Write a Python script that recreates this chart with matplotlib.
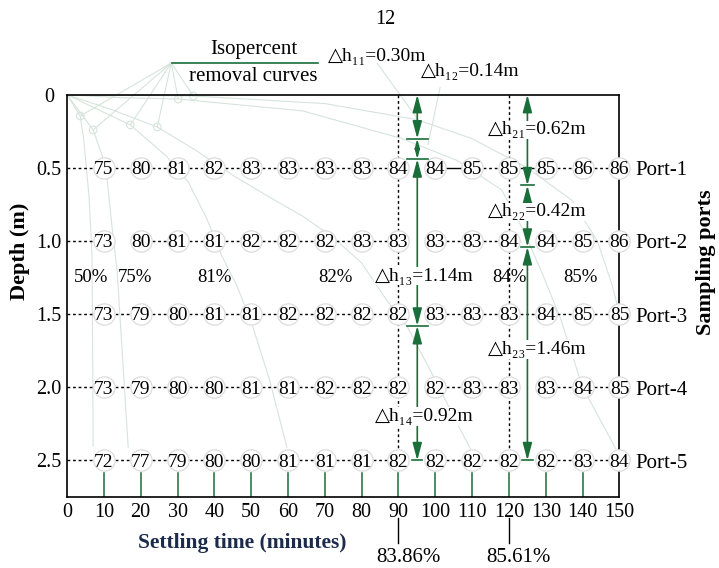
import numpy as np
import matplotlib
matplotlib.use("Agg")
import matplotlib.pyplot as plt

plt.rcParams['font.family'] = ['Liberation Serif', 'DejaVu Sans']

# settling column data: % removal at each port and time
times = [10, 20, 30, 40, 50, 60, 70, 80, 90, 100, 110, 120, 130, 140, 150]
depths = [0.5, 1.0, 1.5, 2.0, 2.5]
ports = ["Port-1", "Port-2", "Port-3", "Port-4", "Port-5"]
port1 = [75, 80, 81, 82, 83, 83, 83, 83, 84, 84, 85, 85, 85, 86, 86]
port2 = [73, 80, 81, 81, 82, 82, 82, 83, 83, 83, 83, 84, 84, 85, 86]
port3 = [73, 79, 80, 81, 81, 82, 82, 82, 82, 83, 83, 83, 84, 85, 85]
port4 = [73, 79, 80, 80, 81, 81, 82, 82, 82, 82, 83, 83, 83, 84, 85]
port5 = [72, 77, 79, 80, 80, 81, 81, 81, 82, 82, 82, 82, 82, 83, 84]
removal = [port1, port2, port3, port4, port5]

# links (row, start time) that are not drawn dashed
gap_links = [(0, 90), (1, 10), (1, 90), (1, 120), (2, 90), (3, 90), (3, 120), (4, 90), (4, 120)]
solid_links = [(0, 100)]

# isopercent removal curves (time, depth)
curve_names = ["50%", "75%", "81%", "82%", "84%", "85%"]
curve_t = [
    [0, 3.6, 4.5, 6.0, 6.8, 7.1],
    [0, 7.1, 9.6, 10.9, 12.5, 13.6, 16.6],
    [0, 17.2, 27, 33, 38, 42, 46, 50, 55, 59.7],
    [0, 12, 24.5, 35, 45, 55, 64, 72, 80, 86.4, 92.7, 100, 106, 109.5],
    [0, 15, 30.2, 64, 91, 106, 118, 124, 129, 134, 140, 149],
    [0, 34.3, 70, 95, 110, 125, 137, 144, 148, 150],
]
curve_d = [
    [0, 0.145, 0.3, 0.7, 1.1, 2.4],
    [0, 0.24, 0.42, 0.58, 0.97, 1.2, 2.41],
    [0, 0.206, 0.42, 0.6, 0.85, 1.1, 1.3, 1.55, 1.95, 2.41],
    [0, 0.1, 0.22, 0.38, 0.55, 0.7, 0.83, 0.97, 1.15, 1.39, 1.6, 1.95, 2.25, 2.42],
    [0, 0.02, 0.029, 0.11, 0.30, 0.45, 0.65, 0.93, 1.22, 1.53, 2.0, 2.42],
    [0, 0.008, 0.06, 0.17, 0.3, 0.5, 0.72, 1.0, 1.3, 1.5],
]
curve_mark_t = [3.6, 7.1, 17.2, 24.5, 30.2, 34.3]
curve_mark_d = [0.145, 0.24, 0.206, 0.22, 0.029, 0.008]
curve_label_t = [6.6, 18.5, 40.0, 72.9, 120.1, 139.5]

# overflow rate analysis at t = 90 and 120 min
sample_times = [90, 120]
total_removal = [83.86, 85.61]
dh_col1 = [0.30, 0.14, 1.14, 0.92]
dh_col2 = [0.62, 0.42, 1.46]

green = '#1a6e3a'
faint = '#d6e4dd'
sub_digits = str.maketrans("0123456789", "₀₁₂₃₄₅₆₇₈₉")

fig = plt.figure(figsize=(7.19, 5.68), dpi=100)
ax = fig.add_axes([0.0932, 0.125, 0.7684, 0.7081])
ax.set_xlim(0, 150)
ax.set_ylim(2.75, 0)

# curves
for ct, cd in zip(curve_t, curve_d):
    ax.plot(ct, cd, color=faint, lw=0.8, zorder=1)
ax.scatter(curve_mark_t, curve_mark_d, s=30, facecolor='none', edgecolor=faint, lw=0.8, zorder=1, clip_on=False)
for mt, md in zip(curve_mark_t, curve_mark_d):
    ax.plot([28.3, mt], [-0.217, md], color=faint, lw=0.8, zorder=1, clip_on=False)
for name, lt in zip(curve_names, curve_label_t):
    ax.text(lt, 1.252, name, ha='center', va='center', fontsize=13.5, zorder=6)

ax.plot([28.6, 68.2], [-0.217, -0.217], color=green, lw=1.2, clip_on=False)
ax.text(50.6, -0.31, "Isopercent", ha='center', va='center', fontsize=15)
ax.text(50.6, -0.125, "removal curves", ha='center', va='center', fontsize=15)

# row lines between sampling points
for i, d in enumerate(depths):
    pts = [0] + times
    for a, b in zip(pts[:-1], pts[1:]):
        if (i, a) in gap_links:
            continue
        if (i, a) in solid_links:
            ax.plot([a, b], [d, d], color='black', lw=1, zorder=2)
        else:
            ax.plot([a, b], [d, d], color='black', lw=1, ls=(0, (2, 2)), zorder=2)

for st in sample_times:
    ax.plot([st, st], [0, depths[-1]], color='black', lw=1, ls=(0, (2, 2)), zorder=2)

for t in times[:-1]:
    ax.plot([t, t], [2.585, 2.75], color=green, lw=1.1, zorder=2)

# circles with values
for i, d in enumerate(depths):
    ax.scatter(times, [d] * len(times), s=235, facecolor='white', edgecolor='#dcdcdc',
               lw=0.9, zorder=3, clip_on=False)
    for t, v in zip(times, removal[i]):
        ax.text(t, d + 0.012, str(v), ha='center', va='center', fontsize=14, zorder=4)
    ax.text(154.2, d + 0.02, ports[i], ha='left', va='center', fontsize=15, clip_on=False)


def dh_arrows(t, dhs, col, label_pos, bar_w):
    bounds = np.concatenate([[0], np.cumsum(dhs)])
    for k in range(len(dhs)):
        ms = 14 if dhs[k] > 0.2 else 7
        ax.annotate("", xy=(t, bounds[k + 1]), xytext=(t, bounds[k]),
                    arrowprops=dict(arrowstyle="<|-|>,head_length=0.75,head_width=0.2",
                                    color=green, lw=1.2, shrinkA=0, shrinkB=0,
                                    mutation_scale=ms), zorder=5)
        w = bar_w if k < len(dhs) - 1 else 1.4
        ax.plot([t - w, t + w], [bounds[k + 1]] * 2, color=green, lw=1.2, zorder=5)
        lx, ly, ha = label_pos[k]
        txt = "△h" + ("%d%d" % (col, k + 1)).translate(sub_digits) + "=%.2fm" % dhs[k]
        ax.text(lx, ly, txt, ha=ha, va='center', fontsize=14, zorder=6, clip_on=False,
                bbox=dict(facecolor='white', edgecolor='none', pad=0.5) if ha == 'center' else None)


dh_arrows(95.1, dh_col1, 1,
          [(70.9, -0.265, 'left'), (96.1, -0.156, 'left'), (97.0, 1.24, 'center'), (97.0, 2.2, 'center')], 2.8)
dh_arrows(125.0, dh_col2, 2,
          [(127.6, 0.24, 'center'), (127.6, 0.8, 'center'), (127.6, 1.74, 'center')], 1.8)

# leaders of the top labels
ax.plot([84.2, 95.3], [-0.217, 0.17], color=faint, lw=0.8, clip_on=False, zorder=1)
ax.plot([101.3, 98.0], [-0.05, 0.34], color=faint, lw=0.8, clip_on=False, zorder=1)

# total removal at sampling times
for st, tr in zip(sample_times, total_removal):
    ax.plot([st, st], [2.893, 3.064], color='black', lw=1, clip_on=False)
    ax.text(st + 2.6, 3.166, "%.2f%%" % tr, ha='center', va='center', fontsize=15, clip_on=False)

ax.set_xticks(np.arange(0, 151, 10))
ax.set_yticks([0] + depths)
ax.set_yticklabels(["0", "0.5", "1.0", "1.5", "2.0", "2.5"])
for lab in ax.get_yticklabels():
    lab.set_ha('center')
ax.tick_params(axis='both', length=0, labelsize=14.5)
ax.tick_params(axis='y', pad=13)
ax.tick_params(axis='x', pad=4)
for s in ax.spines.values():
    s.set_linewidth(1.2)

fig.text(242 / 719, 1 - 543 / 568, "Settling time (minutes)", ha='center', va='center',
         fontsize=15.5, weight='bold', color='#1c2b4b')
fig.text(20 / 719, 1 - 251 / 568, "Depth (m)", ha='center', va='center', rotation=90,
         fontsize=16, weight='bold')
fig.text(706 / 719, 1 - 262 / 568, "Sampling ports", ha='center', va='center', rotation=90,
         fontsize=16, weight='bold')
fig.text(385 / 719, 1 - 20 / 568, "12", ha='center', va='center', fontsize=14.5)

fig.savefig("out.png", dpi=100)
